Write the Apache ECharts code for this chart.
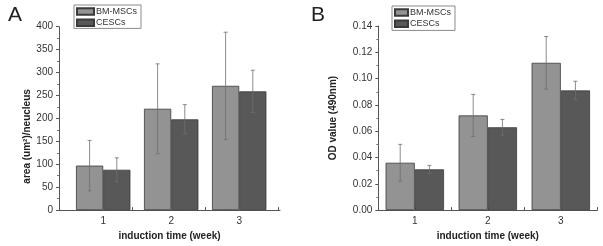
<!DOCTYPE html>
<html><head><meta charset="utf-8">
<script src="https://cdn.jsdelivr.net/npm/echarts@6/dist/echarts.min.js"></script>
<style>html,body{margin:0;padding:0;background:#fff}#c{width:603px;height:246px}</style>
</head><body><div id="c"></div>
<script>
const weeks = [1, 2, 3];
const areaBM = [97, 221, 271];
const areaBMErr = [55, 98, 117];
const areaCE = [88, 198, 259];
const areaCEErr = [26, 32, 46];
const odBM = [0.036, 0.072, 0.112];
const odBMErr = [0.014, 0.016, 0.020];
const odCE = [0.031, 0.063, 0.091];
const odCEErr = [0.003, 0.006, 0.007];
const yTicksA = [0, 50, 100, 150, 200, 250, 300, 350, 400];
const yTicksB = [0, 0.02, 0.04, 0.06, 0.08, 0.10, 0.12, 0.14];
const xTicksA = [0.73, 1.07, 1.43, 1.79, 2.15, 2.5, 2.86, 3.22, 3.57];
const xTicksB = [1, 1.5, 2, 2.5, 3, 3.5];
const seriesNames = ['BM-MSCs', 'CESCs'];

const FONT = 'Liberation Sans, Arial, sans-serif';
const colBM = '#939393', colCE = '#585858', border = '#3a3a3a';
const barFrac = 0.4;

const chart = echarts.init(document.getElementById('c'), null, {renderer: 'canvas'});

function xAxis(idx, min, max, ticks) {
  return {
    type: 'value', gridIndex: idx, min: min, max: max,
    name: 'induction time (week)', nameLocation: 'middle', nameGap: 16,
    nameTextStyle: {fontFamily: FONT, fontSize: 10, fontWeight: 'bold', color: '#222'},
    axisLine: {show: true, lineStyle: {color: '#555', width: 1}},
    axisTick: {show: true, inside: true, length: 3, customValues: ticks, lineStyle: {color: '#555'}},
    axisLabel: {customValues: weeks, fontFamily: FONT, fontSize: 10, color: '#333', margin: 6},
    splitLine: {show: false}
  };
}
function yAxis(idx, max, interval, ticks, name, gap, fmt, namePad) {
  return {
    type: 'value', gridIndex: idx, min: 0, max: max, interval: interval,
    name: name, nameLocation: 'middle', nameGap: gap, nameRotate: 90,
    nameTextStyle: {fontFamily: FONT, fontSize: 10, fontWeight: 'bold', color: '#222', padding: namePad},
    axisLine: {show: true, lineStyle: {color: '#555', width: 1}},
    axisTick: {show: true, inside: false, length: 3, lineStyle: {color: '#555'}},
    minorTick: {show: true, splitNumber: 2, length: 2, lineStyle: {color: '#777'}},
    axisLabel: {customValues: ticks, fontFamily: FONT, fontSize: 10, color: '#333', margin: 6, formatter: fmt},
    splitLine: {show: false}
  };
}
function bar(name, xi, vals, color) {
  return {
    type: 'bar', name: name, xAxisIndex: xi, yAxisIndex: xi,
    data: weeks.map((w, i) => [w, vals[i]]),
    barWidth: (barFrac * 100) + '%', barGap: '0%',
    itemStyle: {color: color, borderColor: border, borderWidth: 0.8},
    emphasis: {disabled: true}, animation: false
  };
}
function err(xi, vals, errs, side) {
  return {
    type: 'custom', xAxisIndex: xi, yAxisIndex: xi, z: 5, silent: true, animation: false,
    data: weeks.map((w, i) => [w, vals[i], errs[i]]),
    renderItem: function (params, api) {
      const x = api.value(0) + side * barFrac / 2;
      const y = api.value(1), e = api.value(2);
      const p1 = api.coord([x, y + e]), p2 = api.coord([x, y - e]);
      const c = 2;
      const st = {stroke: '#6e6e6e', lineWidth: 0.8, fill: null};
      return {type: 'group', children: [
        {type: 'line', shape: {x1: p1[0], y1: p1[1], x2: p2[0], y2: p2[1]}, style: st},
        {type: 'line', shape: {x1: p1[0] - c, y1: p1[1], x2: p1[0] + c, y2: p1[1]}, style: st},
        {type: 'line', shape: {x1: p2[0] - c, y1: p2[1], x2: p2[0] + c, y2: p2[1]}, style: st}
      ]};
    }
  };
}
function legend(left, top, iw, pad) {
  return {
    left: left, top: top, orient: 'vertical', data: seriesNames, selectedMode: false,
    itemWidth: iw, itemHeight: 6.5, itemGap: 0, padding: pad,
    borderColor: '#8a8a8a', borderWidth: 1, icon: 'rect',
    textStyle: {fontFamily: FONT, fontSize: 9, color: '#333', lineHeight: 11.2, padding: [0, 0, 0, -3]}
  };
}

chart.setOption({
  backgroundColor: '#fff',
  animation: false,
  title: [
    {text: 'A', left: 3, top: 0, textStyle: {fontFamily: FONT, fontSize: 21, fontWeight: 'normal', color: '#222'}},
    {text: 'B', left: 306, top: 0, textStyle: {fontFamily: FONT, fontSize: 21, fontWeight: 'normal', color: '#222'}}
  ],
  legend: [legend(74, 5, 17, [1, 4, 0, 2]), legend(392, 6, 13, [1, 4, 1, 2])],
  grid: [
    {left: 59, right: 323, top: 26.7, bottom: 34.3},
    {left: 378.3, right: 5.7, top: 26, bottom: 34.3}
  ],
  xAxis: [xAxis(0, 0.35, 3.6, xTicksA), xAxis(1, 0.5, 3.5, xTicksB)],
  yAxis: [
    yAxis(0, 400, 50, yTicksA, 'area (um²)/neucleus', 23, v => String(v), [0, 36, 0, 0]),
    yAxis(1, 0.14, 0.02, yTicksB, 'OD value (490nm)', 40, v => v.toFixed(2), [0, 0, 0, 0])
  ],
  series: [
    bar(seriesNames[0], 0, areaBM, colBM), bar(seriesNames[1], 0, areaCE, colCE),
    err(0, areaBM, areaBMErr, -1), err(0, areaCE, areaCEErr, 1),
    bar(seriesNames[0], 1, odBM, colBM), bar(seriesNames[1], 1, odCE, colCE),
    err(1, odBM, odBMErr, -1), err(1, odCE, odCEErr, 1)
  ]
});
</script></body></html>
